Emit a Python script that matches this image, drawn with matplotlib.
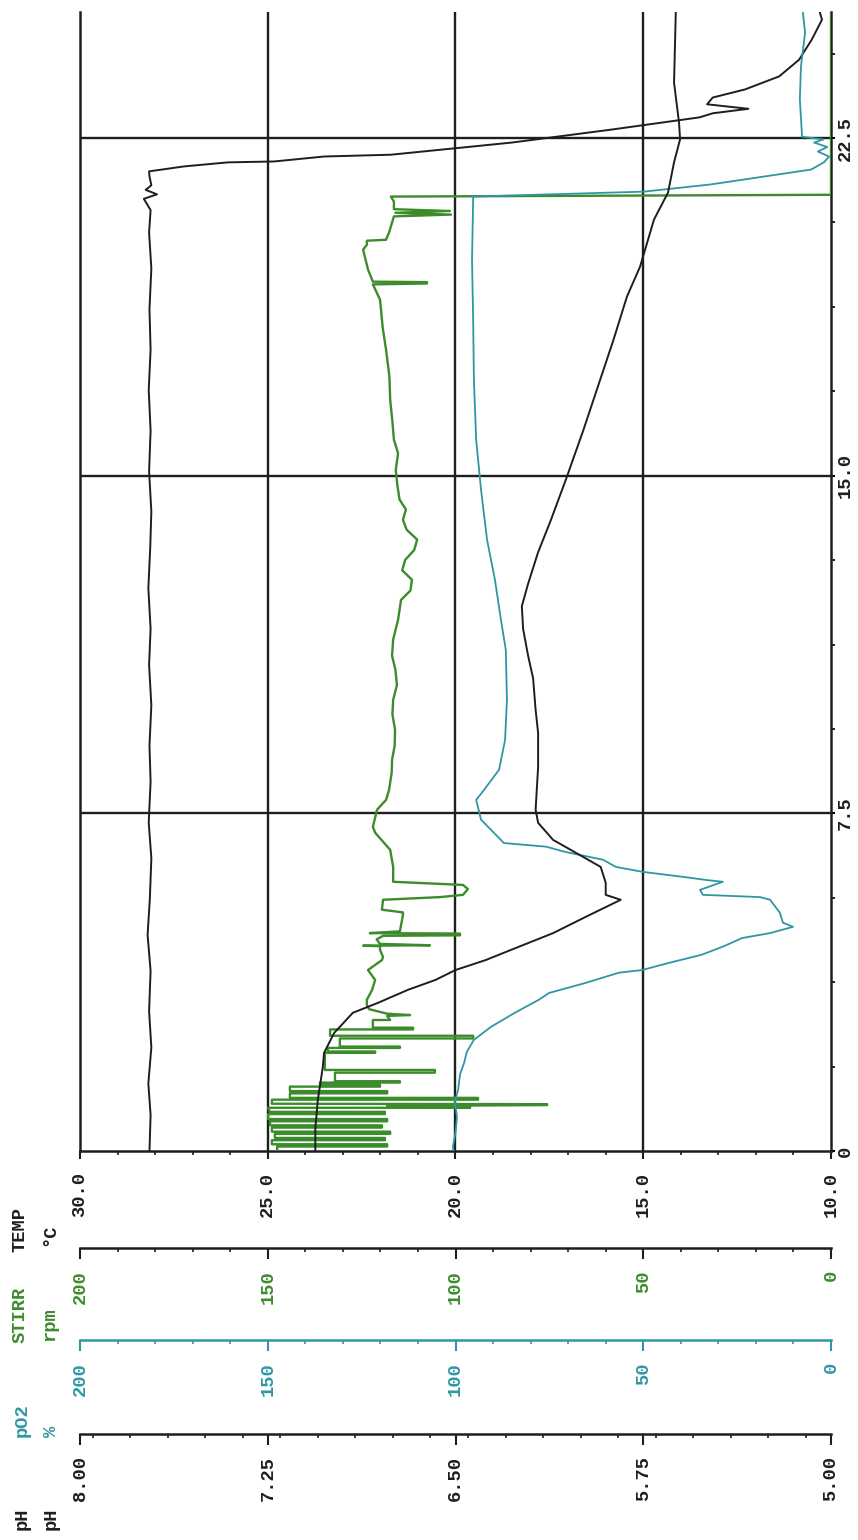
import matplotlib
matplotlib.use("Agg")
import matplotlib.pyplot as plt
from matplotlib.ticker import FixedLocator, MultipleLocator

# ---------------- data ----------------
# elapsed time (h) and temperature (degC)
time_temp = [0.0, 0.8, 1.5, 2.3, 3.1, 4.0, 4.8, 5.6, 6.5, 7.3, 8.2, 9.0, 9.9, 10.8,
             11.6, 12.5, 13.4, 14.2, 15.1, 16.0, 16.9, 17.8, 18.7, 19.6, 20.4, 20.9,
             21.15, 21.25, 21.35, 21.45, 21.65, 21.76, 21.87, 21.96, 21.98, 22.09,
             22.13, 22.40, 22.69, 22.96, 23.05, 23.15, 23.25, 23.40, 23.58, 23.87,
             24.24, 24.69, 25.13, 25.3]
temp_c = [28.15, 28.12, 28.18, 28.10, 28.16, 28.12, 28.20, 28.14, 28.10, 28.17, 28.12,
          28.15, 28.10, 28.16, 28.12, 28.18, 28.13, 28.10, 28.16, 28.12, 28.17, 28.12,
          28.15, 28.10, 28.16, 28.12, 28.30, 27.95, 28.25, 28.10, 28.15, 28.16, 27.23,
          26.06, 24.83, 23.50, 21.72, 18.50, 15.83, 13.50, 13.15, 12.20, 13.30, 13.15,
          12.29, 11.38, 10.85, 10.51, 10.24, 10.30]

# pH
time_ph = [0.0, 0.5, 1.13, 1.87, 2.18, 2.62, 3.07, 3.29, 3.58, 3.80, 4.02, 4.24, 4.53,
           4.84, 5.20, 5.58, 5.69, 5.96, 6.31, 6.69, 6.91, 7.29, 7.58, 8.53, 9.29, 9.80,
           10.5, 11.0, 11.6, 12.1, 12.6, 13.3, 14.0, 14.9, 16.0, 17.0, 18.0, 18.98,
           19.64, 20.69, 21.29, 21.96, 22.47, 22.84, 23.73, 25.3]
ph = [7.06, 7.06, 7.05, 7.03, 7.025, 6.985, 6.91, 6.81, 6.69, 6.58, 6.50, 6.38, 6.25,
      6.11, 5.98, 5.84, 5.90, 5.90, 5.92, 6.04, 6.11, 6.17, 6.18, 6.17, 6.17, 6.18,
      6.19, 6.21, 6.23, 6.235, 6.21, 6.17, 6.12, 6.06, 5.99, 5.93, 5.87, 5.815,
      5.763, 5.707, 5.651, 5.627, 5.603, 5.607, 5.627, 5.62]

# dissolved oxygen pO2 (%)
time_po2 = [0.0, 0.09, 0.4, 0.76, 1.1, 1.36, 1.7, 1.96, 2.2, 2.47, 2.76, 3.07, 3.36,
            3.51, 3.73, 3.96, 4.02, 4.18, 4.36, 4.55, 4.73, 4.84, 4.98, 5.07, 5.29,
            5.58, 5.64, 5.69, 5.80, 5.98, 6.02, 6.07, 6.20, 6.31, 6.47, 6.64, 6.76,
            6.84, 7.36, 7.80, 8.02, 8.47, 9.13, 10.02, 11.13, 11.8, 12.69, 13.58,
            14.69, 15.8, 17.13, 18.47, 19.8, 21.13, 21.2, 21.31, 21.47, 21.8, 21.96,
            22.09, 22.2, 22.3, 22.4, 22.47, 22.5, 22.53, 23.36, 24.09, 24.84, 25.3]
po2 = [100.5, 100.7, 100.0, 99.6, 100.2, 99.3, 98.8, 97.7, 97.0, 95.1, 90.5, 84.2,
       77.8, 75.1, 65.5, 56.5, 50.3, 43.1, 34.4, 28.5, 23.7, 16.2, 10.1, 12.8, 13.6,
       16.2, 18.9, 34.1, 34.9, 28.8, 33.3, 37.6, 50.1, 57.3, 60.7, 70.6, 75.9, 87.1,
       93.2, 94.5, 92.4, 88.4, 86.8, 86.3, 86.6, 87.9, 89.5, 91.6, 93.2, 94.5, 95.1,
       95.3, 95.6, 95.3, 95.3, 49.8, 32.0, 5.3, 1.9, 0.5, 3.5, 1.0, 4.5, 2.0, 5.0,
       7.7, 8.3, 8.0, 6.9, 7.5]

# stirrer speed (rpm)
time_stirr = [0.00, 0.10, 0.10, 0.15, 0.15, 0.24, 0.24, 0.29, 0.29, 0.38, 0.38, 0.43,
              0.43, 0.52, 0.52, 0.57, 0.57, 0.66, 0.66, 0.71, 0.71, 0.82, 0.82, 0.87,
              0.87, 0.96, 0.96, 1.00, 1.02, 1.04, 1.05, 1.14, 1.14, 1.18, 1.18, 1.28,
              1.28, 1.33, 1.33, 1.43, 1.43, 1.47, 1.47, 1.52, 1.52, 1.55, 1.55, 1.74,
              1.74, 1.80, 1.80, 2.18, 2.18, 2.21, 2.21, 2.29, 2.29, 2.32, 2.32, 2.50,
              2.50, 2.56, 2.56, 2.70, 2.70, 2.74, 2.74, 2.91, 2.91, 3.00, 3.02, 3.05,
              3.15, 3.24, 3.36, 3.58, 3.80, 4.02, 4.24, 4.31, 4.47, 4.55, 4.56, 4.57,
              4.60, 4.70, 4.78, 4.79, 4.83, 4.84, 4.88, 5.24, 5.30, 5.36, 5.58, 5.64,
              5.69, 5.82, 5.91, 5.98, 6.31, 6.69, 7.07, 7.20, 7.58, 7.80, 8.02, 8.40,
              8.69, 9.00, 9.36, 9.70, 10.02, 10.35, 10.69, 11.00, 11.36, 11.80, 12.24,
              12.45, 12.69, 12.90, 13.13, 13.35, 13.58, 13.80, 14.02, 14.25, 14.47,
              14.80, 15.13, 15.50, 15.80, 16.20, 16.69, 17.20, 17.80, 18.30, 18.91,
              19.25, 19.27, 19.30, 19.31, 19.58, 20.02, 20.13, 20.22, 20.24, 20.40,
              20.76, 20.80, 20.84, 20.88, 20.92, 21.09, 21.20, 21.24, 25.3]
stirr = [147.5, 147.5, 118.2, 118.2, 148.9, 148.9, 118.8, 118.8, 148.1, 148.1, 117.4,
         117.4, 148.9, 148.9, 119.6, 119.6, 149.4, 149.4, 118.2, 118.2, 149.9, 149.9,
         118.8, 118.8, 149.4, 149.9, 96.1, 118.2, 75.6, 75.6, 148.9, 148.9, 94.0, 94.0,
         144.1, 144.1, 118.2, 118.2, 144.1, 144.1, 120.1, 120.1, 136.1, 136.1, 114.8,
         114.8, 132.1, 132.1, 105.5, 105.5, 134.8, 134.8, 121.4, 121.4, 134.0, 134.0,
         114.8, 114.8, 130.8, 130.8, 95.3, 95.3, 133.4, 133.4, 111.3, 111.3, 122.0,
         122.0, 117.4, 118.2, 112.1, 118.2, 123.0, 123.6, 123.6, 122.2, 121.4, 123.3,
         119.6, 119.3, 120.1, 120.1, 124.6, 106.8, 120.1, 121.0, 119.3, 98.8, 98.8,
         122.8, 114.8, 114.0, 114.0, 119.6, 119.3, 104.1, 98.0, 96.7, 98.0, 116.6,
         116.6, 117.4, 121.4, 122.0, 120.9, 118.5, 117.7, 117.0, 116.9, 116.2, 116.1,
         116.8, 116.6, 115.6, 116.0, 116.9, 116.6, 115.3, 114.5, 112.0, 111.6, 114.2,
         113.4, 111.0, 110.2, 113.0, 114.0, 113.2, 114.9, 115.5, 115.9, 115.3, 116.4,
         116.8, 117.4, 117.6, 118.5, 119.4, 120.1, 122.0, 107.6, 107.6, 122.0, 123.3,
         124.6, 123.6, 123.6, 118.5, 117.7, 116.4, 101.2, 116.0, 101.5, 116.4, 116.4,
         117.2, 0.0, 0.0]

# axis scales
temp_ticks = [30, 25, 20, 15, 10]
temp_labels = ["30.0", "25.0", "20.0", "15.0", "10.0"]
rpm_ticks = [200, 150, 100, 50, 0]
rpm_labels = ["200", "150", "100", "50", "0"]
ph_ticks = [8.00, 7.25, 6.50, 5.75, 5.00]
ph_labels = ["8.00", "7.25", "6.50", "5.75", "5.00"]
time_ticks = [0, 7.5, 15.0, 22.5]
time_labels = ["0", "7.5", "15.0", "22.5"]
time_max = 25.3

# ---------------- styling ----------------
BLACK = "#1e1e1e"
GREEN = "#3c8c2c"
CYAN = "#2f97a3"
FONT = dict(family="Liberation Mono", weight="bold", size=13.5)

W, H = 858, 1540
fig = plt.figure(figsize=(W / 100, H / 100), dpi=100)


def fx(px):
    return px / W


def fy(py):
    return 1 - py / H


L, R, B, T = 80, 831, 1151, 12
rect = [fx(L), fy(B), (R - L) / W, (B - T) / H]

# main panel: temperature across, time running upward
ax = fig.add_axes(rect, label="temp")
ax.set_xlim(30, 10)
ax.set_ylim(0, time_max)
ax.spines["top"].set_visible(False)
for s in ("left", "right", "bottom"):
    ax.spines[s].set_linewidth(1.8)
    ax.spines[s].set_color(BLACK)
ax.xaxis.set_major_locator(FixedLocator(temp_ticks))
ax.xaxis.set_minor_locator(MultipleLocator(1))
ax.set_xticklabels(temp_labels, rotation=90, color=BLACK, **FONT)
ax.tick_params(axis="x", which="major", length=6, width=1.5, pad=9, colors=BLACK)
ax.tick_params(axis="x", which="minor", length=3, width=1.2, colors=BLACK)
ax.yaxis.tick_right()
ax.yaxis.set_major_locator(FixedLocator(time_ticks))
ax.yaxis.set_minor_locator(MultipleLocator(1.875))
ax.set_yticklabels(time_labels, rotation=90, va="center", color=BLACK, **FONT)
ax.tick_params(axis="y", which="major", length=3, width=1.5, pad=1)
ax.tick_params(axis="y", which="minor", length=3, width=1.2)
for v in (25, 20, 15):
    ax.axvline(v, color=BLACK, lw=1.7, zorder=1)
for v in (7.5, 15.0, 22.5):
    ax.axhline(v, color=BLACK, lw=1.7, zorder=1)


def overlay(name, lo, hi):
    a = fig.add_axes(rect, label=name, frameon=False)
    a.set_xlim(hi, lo)
    a.set_ylim(0, time_max)
    a.axis("off")
    return a


ax_stirr = overlay("stirr", 0, 200)
ax_po2 = overlay("po2", 0, 200)
ax_ph = overlay("ph", 5.0, 8.0)

ax_stirr.plot(stirr, time_stirr, color=GREEN, lw=1.7, zorder=3)
ax_po2.plot(po2, time_po2, color=CYAN, lw=1.3, zorder=3)
ax_ph.plot(ph, time_ph, color=BLACK, lw=1.4, zorder=4)
ax.plot(temp_c, time_temp, color=BLACK, lw=1.4, zorder=4)


def scale_bar(ypix, lo, hi, ticks, labels, minor, line_color, text_color):
    # a frameless strip: the scale line is a horizontal rule at its base
    a = fig.add_axes([fx(L), fy(ypix), (R - L) / W, 20 / H],
                     label="bar%d" % ypix, frameon=False)
    a.set_xlim(hi, lo)
    a.set_ylim(0, 1)
    a.axhline(0, color=line_color, lw=1.8, clip_on=False)
    a.yaxis.set_visible(False)
    a.xaxis.set_major_locator(FixedLocator(ticks))
    a.xaxis.set_minor_locator(MultipleLocator(minor))
    a.set_xticklabels(labels, rotation=90, color=text_color, **FONT)
    a.tick_params(axis="x", which="major", length=8, width=1.5, pad=8, colors=line_color)
    a.tick_params(axis="x", which="minor", length=3, width=1.2, colors=line_color)
    for lab in a.get_xticklabels():
        lab.set_color(text_color)
    return a


scale_bar(1248, 0, 200, rpm_ticks, rpm_labels, 10, BLACK, GREEN)
scale_bar(1340, 0, 200, rpm_ticks, rpm_labels, 10, CYAN, CYAN)
scale_bar(1434, 5.0, 8.0, ph_ticks, ph_labels, 0.15, BLACK, BLACK)

# channel headers
headers = [
    ("TEMP", 20, 1252, BLACK), ("\u00b0C", 50, 1246, BLACK),
    ("STIRR", 20, 1343, GREEN), ("rpm", 50, 1341, GREEN),
    ("pO2", 22, 1437, CYAN), ("%", 51, 1437, CYAN),
    ("pH", 22, 1530, BLACK), ("pH", 51, 1530, BLACK),
]
for txt, x, y, c in headers:
    fig.text(fx(x), fy(y), txt, rotation=90, ha="center", va="bottom", color=c, **FONT)

fig.savefig("out.png", dpi=100, facecolor="white")
